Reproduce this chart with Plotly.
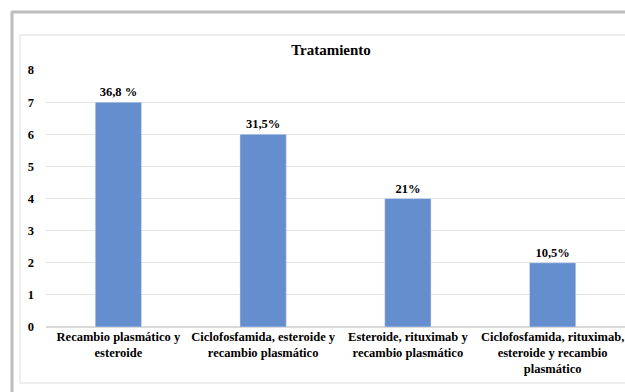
import plotly.graph_objects as go

categories = [
    "Recambio plasmático y<br>esteroide",
    "Ciclofosfamida, esteroide y<br>recambio plasmático",
    "Esteroide, rituximab y<br>recambio plasmático",
    "Ciclofosfamida, rituximab,<br>esteroide y recambio<br>plasmático",
]
values = [7, 6, 4, 2]
labels = ["36,8 %", "31,5%", "21%", "10,5%"]
y_ticks = [0, 1, 2, 3, 4, 5, 6, 7, 8]

W, H = 625, 392
ML, MR, MT, MB = 46, 0, 70, 65
PW, PH = W - ML - MR, H - MT - MB

def px(x):
    return (x - ML) / PW

def py(y):
    return (H - MB - y) / PH

FAM = "Liberation Serif"
font = dict(family=FAM, size=12.5, color="#000000")

fig = go.Figure(go.Bar(
    x=categories, y=values, text=labels, textposition="outside",
    textfont=dict(family=FAM, size=12.5, color="#000000"),
    marker=dict(color="#658ecf"), cliponaxis=False,
))

fig.update_layout(
    width=W, height=H,
    margin=dict(l=ML, r=MR, t=MT, b=MB),
    paper_bgcolor="white", plot_bgcolor="white",
    bargap=0.68,
    showlegend=False,
    font=font,
    title=dict(text="<b>Tratamiento</b>", x=331 / W, xanchor="center",
               y=1 - 50 / H, yanchor="middle",
               font=dict(family=FAM, size=15, color="#000000")),
    xaxis=dict(showgrid=False, showline=False, tickfont=dict(family=FAM, size=12.5, color="#000")),
    yaxis=dict(range=[0, 8], tickvals=y_ticks, showgrid=True, gridcolor="#e3e3e3",
               zeroline=True, zerolinecolor="#d9d9d9", showline=False,
               ticklabelstandoff=11,
               tickfont=dict(family=FAM, size=12.5, color="#000")),
    shapes=[
        dict(type="line", xref="paper", yref="paper", x0=px(12), x1=px(12), y0=py(12), y1=py(392),
             line=dict(color="#bdbdbd", width=3)),
        dict(type="line", xref="paper", yref="paper", x0=px(11), x1=px(630), y0=py(12), y1=py(12),
             line=dict(color="#bdbdbd", width=3)),
        dict(type="rect", xref="paper", yref="paper", x0=px(20), x1=px(640), y0=py(35), y1=py(383),
             line=dict(color="#dcdcdc", width=1)),
    ],
)

fig.update_traces(texttemplate="<b>%{text}</b>")
fig.update_xaxes(ticktext=["<b>" + c + "</b>" for c in categories], tickvals=categories)
fig.update_yaxes(ticktext=["<b>%d</b>" % t for t in y_ticks])

fig.write_html("out.html")
